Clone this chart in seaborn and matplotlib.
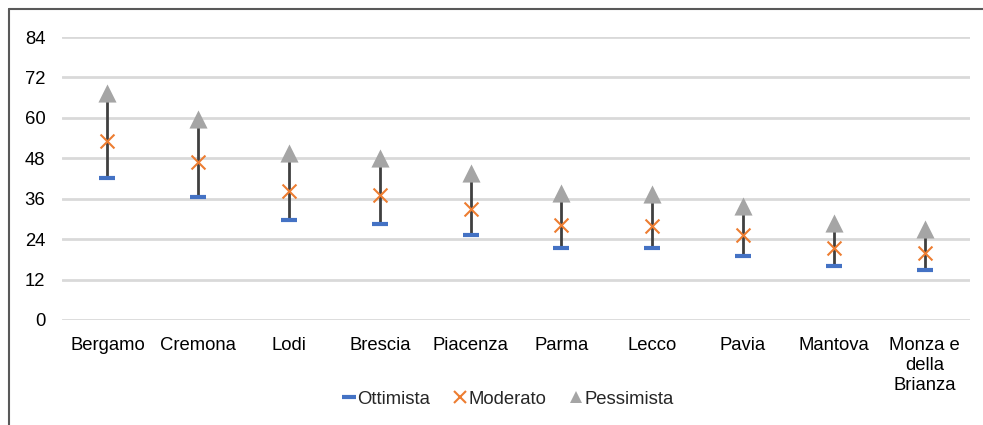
import numpy as np
import pandas as pd
import seaborn as sns
import matplotlib.pyplot as plt
from matplotlib.lines import Line2D

# Valori
province = ["Bergamo", "Cremona", "Lodi", "Brescia", "Piacenza", "Parma",
            "Lecco", "Pavia", "Mantova", "Monza e\ndella\nBrianza"]
ottimista = [42.1, 36.5, 29.7, 28.5, 25.2, 21.4, 21.4, 19.0, 16.0, 14.8]
moderato = [53.1, 46.9, 38.3, 37.1, 33.0, 28.2, 27.9, 25.2, 21.4, 19.9]
pessimista = [67.5, 59.7, 49.6, 48.1, 43.6, 37.7, 37.4, 33.8, 28.8, 27.0]
y_ticks = [0, 12, 24, 36, 48, 60, 72, 84]

df = pd.DataFrame({"Provincia": province, "Ottimista": ottimista,
                   "Moderato": moderato, "Pessimista": pessimista})
df["pos"] = np.arange(len(df))

sns.set_theme(style="white")
plt.rcParams["font.family"] = ["Liberation Sans", "DejaVu Sans"]
fs = 13.3

fig = plt.figure(figsize=(9.83, 4.25), dpi=100)
ax = fig.add_axes([62 / 983, 1 - 320 / 425, 908 / 983, 283 / 425])

# griglia orizzontale
for t in y_ticks:
    ax.axhline(t, color="#D9D9D9", lw=2, zorder=0)

# linee alto-basso
ax.vlines(df["pos"], df["Ottimista"], df["Pessimista"], color="#404040", lw=2, zorder=1)

sns.scatterplot(data=df, x="pos", y="Ottimista", marker="_", s=120, linewidth=3,
                color="#4472C4", ax=ax, zorder=3)
sns.scatterplot(data=df, x="pos", y="Moderato", marker="x", s=100, linewidth=1.5,
                color="#ED7D31", ax=ax, zorder=3)
sns.scatterplot(data=df, x="pos", y="Pessimista", marker="^", s=170, linewidth=0,
                color="#A5A5A5", ax=ax, zorder=3)

ax.set_xlim(-0.5, len(df) - 0.5)
ax.set_ylim(0, 84)
ax.set_yticks(y_ticks)
ax.set_yticklabels([str(t) for t in y_ticks], fontsize=fs, color="#000000")
ax.set_xticks(df["pos"])
ax.set_xticklabels(df["Provincia"], fontsize=fs, color="#000000", linespacing=1.25,
                   va="top")
ax.tick_params(axis="both", length=0)
ax.tick_params(axis="x", pad=12)
ax.tick_params(axis="y", pad=12)
ax.set_xlabel("")
ax.set_ylabel("")
for s in ax.spines.values():
    s.set_visible(False)

handles = [
    Line2D([], [], ls="none", marker="_", markersize=10, markeredgewidth=3, color="#4472C4"),
    Line2D([], [], ls="none", marker="x", markersize=8, markeredgewidth=1.5, color="#ED7D31"),
    Line2D([], [], ls="none", marker="^", markersize=9, color="#A5A5A5", markeredgewidth=0),
]
fig.legend(handles, ["Ottimista", "Moderato", "Pessimista"], loc="center",
           bbox_to_anchor=(508 / 983, 1 - 399 / 425), ncol=3, frameon=False,
           fontsize=fs, handlelength=0.7, handletextpad=0.1, columnspacing=1.25)

# cornice del grafico
fig.add_artist(Line2D([8.5 / 983, 8.5 / 983], [0, 1 - 8.5 / 425], color="#595959", lw=1.5))
fig.add_artist(Line2D([8.5 / 983, 1], [1 - 8.5 / 425, 1 - 8.5 / 425], color="#595959", lw=1.5))

fig.savefig("out.png", dpi=100)
